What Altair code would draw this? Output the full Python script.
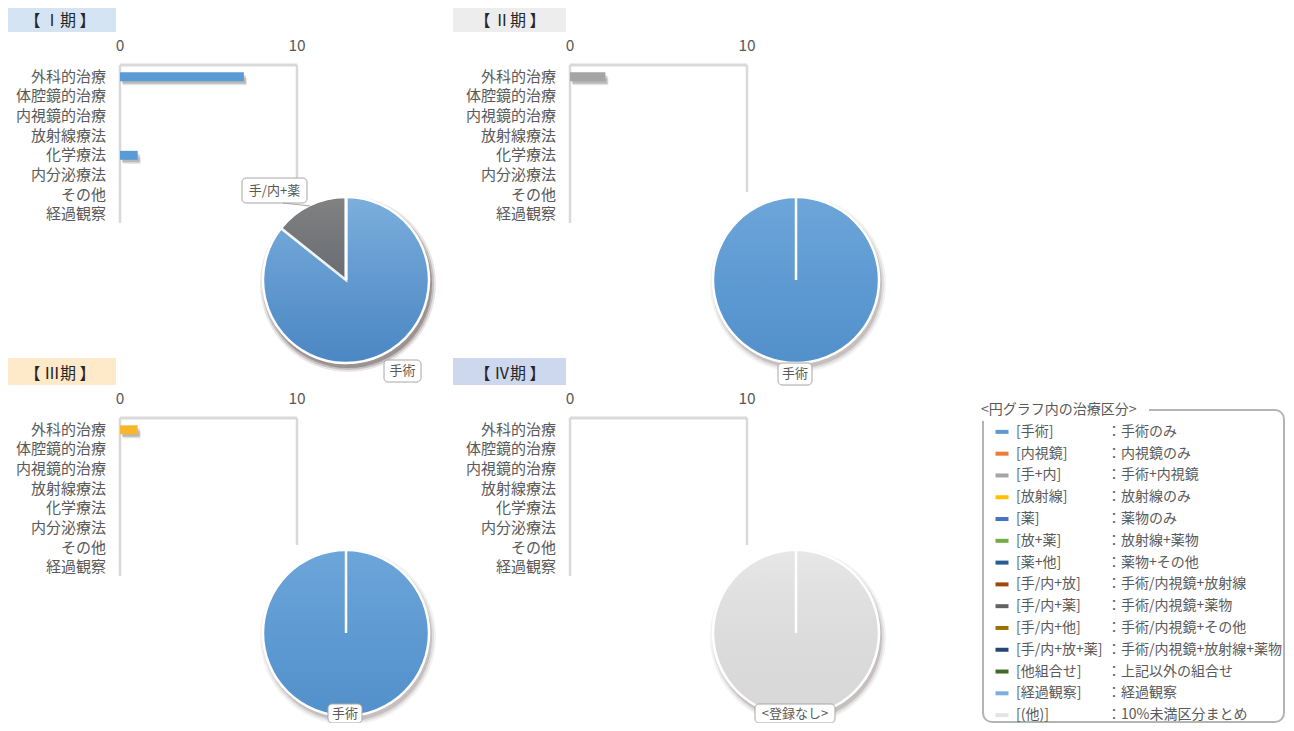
import altair as alt
import pandas as pd

FONT = "Noto Sans CJK JP"

# ---------------- data ----------------
categories = ["外科的治療", "体腔鏡的治療", "内視鏡的治療", "放射線療法",
              "化学療法", "内分泌療法", "その他", "経過観察"]
stage_titles = ["【 Ⅰ期 】", "【 Ⅱ期 】", "【 Ⅲ期 】", "【 Ⅳ期 】"]
stage1_counts = [7, 0, 0, 0, 1, 0, 0, 0]
stage2_counts = [2, 0, 0, 0, 0, 0, 0, 0]
stage3_counts = [1, 0, 0, 0, 0, 0, 0, 0]
stage4_counts = [0, 0, 0, 0, 0, 0, 0, 0]
axis_ticks = [0, 10]

pie1_keys = ["手術", "手/内+薬"]
pie1_values = [6, 1]
pie1_labels = ["手術", "手/内+薬"]
pie2_keys = ["手術"]
pie2_values = [2]
pie2_labels = ["手術"]
pie3_keys = ["手術"]
pie3_values = [1]
pie3_labels = ["手術"]
pie4_keys = ["(他)"]
pie4_values = [1]
pie4_labels = ["<登録なし>"]

legend_title = "<円グラフ内の治療区分>"
legend_keys = ["手術", "内視鏡", "手+内", "放射線", "薬", "放+薬", "薬+他",
               "手/内+放", "手/内+薬", "手/内+他", "手/内+放+薬", "他組合せ",
               "経過観察", "(他)"]
legend_desc = ["手術のみ", "内視鏡のみ", "手術+内視鏡", "放射線のみ", "薬物のみ",
               "放射線+薬物", "薬物+その他", "手術/内視鏡+放射線", "手術/内視鏡+薬物",
               "手術/内視鏡+その他", "手術/内視鏡+放射線+薬物", "上記以外の組合せ",
               "経過観察", "10%未満区分まとめ"]
legend_colors = ["#5b9bd5", "#ed7d31", "#a5a5a5", "#ffc000", "#4472c4", "#70ad47",
                 "#255e91", "#9e480e", "#636363", "#997300", "#264478", "#43682b",
                 "#7cafdd", "#e4e4e4"]

# ---------------- styling ----------------
bar_colors = ["#5b9bd5", "#a5a5a5", "#f8b62d", "#4472c4"]
header_fills = ["#d5e4f2", "#ededed", "#fee9c8", "#cdd8ee"]
TXT = "#595959"
GRID = "#d9d9d9"
W, H = 1278, 715


def S(v):
    # screen pixel -> chart pixel (page margin 8px)
    return v - 8


color_scale = alt.Scale(domain=legend_keys, range=legend_colors)

layers = []


def panel(idx, counts, pkeys, pvals, plabels, label_boxes, ox, oy, neutral=False):
    bars = pd.DataFrame({"cat": categories, "v": counts})
    ticks = pd.DataFrame({"t": axis_ticks})
    xs = alt.Scale(domain=[0, 10], range=[S(120) + ox, S(297) + ox])
    ys = alt.Scale(domain=categories, range=[S(67) + oy, S(224) + oy],
                   paddingInner=0, paddingOuter=0)

    # header
    hdr = pd.DataFrame({"title": [stage_titles[idx]]})
    layers.append(alt.Chart(hdr).mark_rect(color=header_fills[idx]).encode(
        x=alt.value(max(S(3) + ox, 0)), x2=alt.value(S(116) + ox),
        y=alt.value(max(S(5) + oy, 0)), y2=alt.value(S(32) + oy)))
    layers.append(alt.Chart(hdr).mark_text(font=FONT, fontSize=16, color="#262626",
                                           baseline="middle").encode(
        text="title:N", x=alt.value(S(60) + ox), y=alt.value(S(21) + oy)))

    # tick labels
    layers.append(alt.Chart(ticks).mark_text(font=FONT, fontSize=15.5, color=TXT,
                                             baseline="middle").encode(
        x=alt.X("t:Q", scale=xs, axis=None), y=alt.value(S(46) + oy), text="t:Q"))
    # grid
    top = pd.DataFrame({"a": [axis_ticks[0]], "b": [axis_ticks[-1]]})
    layers.append(alt.Chart(top).mark_rule(color=GRID, strokeWidth=3).encode(
        x=alt.X("a:Q", scale=xs, axis=None), x2="b:Q", y=alt.value(S(65) + oy)))
    layers.append(alt.Chart(ticks).transform_filter("datum.t == 0").mark_rule(
        color=GRID, strokeWidth=2.5).encode(
        x=alt.X("t:Q", scale=xs, axis=None), y=alt.value(S(65) + oy),
        y2=alt.value(S(223) + oy)))
    layers.append(alt.Chart(ticks).transform_filter("datum.t == 10").mark_rule(
        color=GRID, strokeWidth=2.5).encode(
        x=alt.X("t:Q", scale=xs, axis=None), y=alt.value(S(65) + oy),
        y2=alt.value(S(192) + oy)))

    # category labels
    layers.append(alt.Chart(bars).mark_text(font=FONT, fontSize=15, color=TXT,
                                            align="right", baseline="middle").encode(
        y=alt.Y("cat:N", scale=ys, axis=None, sort=categories),
        x=alt.value(S(106) + ox), text="cat:N"))

    # bar shadow + bars
    for (dx, dy, sz, op) in [(3, 5, 7, 0.12), (2, 3, 8, 0.22)]:
        layers.append(alt.Chart(bars).transform_filter("datum.v > 0").mark_bar(
            size=sz, color="#202020", opacity=op, xOffset=dx, yOffset=dy).encode(
            x=alt.X("v:Q", scale=xs, axis=None),
            y=alt.Y("cat:N", scale=ys, axis=None, sort=categories)))
    layers.append(alt.Chart(bars).transform_filter("datum.v > 0").mark_bar(
        size=9, color=bar_colors[idx]).encode(
        x=alt.X("v:Q", scale=xs, axis=None),
        y=alt.Y("cat:N", scale=ys, axis=None, sort=categories)))

    # pie
    cx, cy, r = S(346) + ox, S(280) + oy, 83
    pdf = pd.DataFrame({"k": pkeys, "v": pvals, "o": list(range(len(pkeys)))})
    for dr, op in [(5, 0.06), (3, 0.1), (1, 0.16)]:
        layers.append(alt.Chart(pdf).mark_arc(
            radius=r + dr, theta=0, theta2=6.2832, color="#3a2a25", opacity=op).encode(
            x=alt.value(cx + 2), y=alt.value(cy + 4)))
    layers.append(alt.Chart(pdf).mark_arc(radius=r, stroke="white", strokeWidth=2.5).encode(
        theta=alt.Theta("v:Q", stack=True),
        color=alt.Color("k:N", scale=color_scale, legend=None),
        order=alt.Order("o:Q"),
        x=alt.value(cx), y=alt.value(cy)))
    bottom = "rgba(0,0,0,0.05)" if neutral else "rgba(0,40,110,0.09)"
    grad = alt.Gradient(gradient="linear",
                        stops=[alt.GradientStop(color="rgba(255,255,255,0.10)", offset=0),
                               alt.GradientStop(color=bottom, offset=1)],
                        x1=0, x2=0, y1=0, y2=1)
    layers.append(alt.Chart(pdf).mark_arc(radius=r - 1.5, theta=0, theta2=6.2832,
                                          fill=grad).encode(
        x=alt.value(cx), y=alt.value(cy)))
    layers.append(alt.Chart(pdf).mark_rule(color="white", strokeWidth=2.5).encode(
        x=alt.value(cx), y=alt.value(cy - r), y2=alt.value(cy)))

    # label boxes
    for (lab, bx1, by1, bx2, by2) in label_boxes:
        ldf = pd.DataFrame({"lab": [lab]})
        layers.append(alt.Chart(ldf).mark_rect(fill="white", stroke="#a6a6a6",
                                               strokeWidth=1, cornerRadius=4).encode(
            x=alt.value(S(bx1) + ox), x2=alt.value(S(bx2) + ox),
            y=alt.value(S(by1) + oy), y2=alt.value(S(by2) + oy)))
        layers.append(alt.Chart(ldf).mark_text(font=FONT, fontSize=13, color=TXT,
                                               baseline="middle").encode(
            text="lab:N", x=alt.value(S((bx1 + bx2) / 2) + ox),
            y=alt.value(S((by1 + by2) / 2) + oy)))


panel(0, stage1_counts, pie1_keys, pie1_values, pie1_labels,
      [(pie1_labels[1], 242, 178, 307, 203), (pie1_labels[0], 384, 360, 421, 382)], 0, 0)
panel(1, stage2_counts, pie2_keys, pie2_values, pie2_labels,
      [(pie2_labels[0], 328, 363, 362, 385)], 450, 0)
panel(2, stage3_counts, pie3_keys, pie3_values, pie3_labels,
      [(pie3_labels[0], 328, 351, 362, 370)], 0, 353)
panel(3, stage4_counts, pie4_keys, pie4_values, pie4_labels,
      [(pie4_labels[0], 305, 351, 385, 370)], 450, 353, neutral=True)

# leader line for the small slice label in stage I
lead = pd.DataFrame({"lab": [pie1_labels[1]]})
layers.append(alt.Chart(lead).mark_rule(color="#a6a6a6", strokeWidth=1).encode(
    x=alt.value(S(283)), x2=alt.value(S(310)), y=alt.value(S(203)), y2=alt.value(S(206))))

# ---------------- legend ----------------
leg = pd.DataFrame({"k": legend_keys, "d": legend_desc})
leg["lab"] = "[" + leg["k"] + "]"
leg["desc"] = "：" + leg["d"]
lys = alt.Scale(domain=legend_keys, range=[S(421), S(726)], paddingInner=0, paddingOuter=0)
box = pd.DataFrame({"t": [legend_title]})
layers.append(alt.Chart(box).mark_rect(
    fill="none", stroke="#b4b4b4", strokeWidth=2, cornerRadius=9).encode(
    x=alt.value(S(983)), x2=alt.value(S(1284)), y=alt.value(S(410)), y2=alt.value(S(722))))
layers.append(alt.Chart(box).mark_rect(fill="white").encode(
    x=alt.value(S(976)), x2=alt.value(S(1149)), y=alt.value(S(400)), y2=alt.value(S(421))))
layers.append(alt.Chart(box).mark_text(
    font=FONT, fontSize=14, color=TXT, align="left", baseline="middle").encode(
    text="t:N", x=alt.value(S(981)), y=alt.value(S(410))))
layers.append(alt.Chart(leg).mark_tick(thickness=4, size=13, orient="horizontal",
                                       opacity=1).encode(
    y=alt.Y("k:N", scale=lys, axis=None, sort=legend_keys),
    x=alt.value(S(1002)),
    color=alt.Color("k:N", scale=color_scale, legend=None)))
layers.append(alt.Chart(leg).mark_text(font=FONT, fontSize=14, color=TXT, align="left",
                                       baseline="middle").encode(
    y=alt.Y("k:N", scale=lys, axis=None, sort=legend_keys),
    x=alt.value(S(1016)), text="lab:N"))
layers.append(alt.Chart(leg).mark_text(font=FONT, fontSize=14, color=TXT, align="left",
                                       baseline="middle").encode(
    y=alt.Y("k:N", scale=lys, axis=None, sort=legend_keys),
    x=alt.value(S(1107)), text="desc:N"))

chart = alt.layer(*layers).resolve_scale(
    x="independent", y="independent", theta="independent"
).properties(
    width=W, height=H, padding=0, autosize=alt.AutoSizeParams(type="none")
).configure(background="white", view=alt.ViewConfig(strokeWidth=0, stroke="transparent"))

chart.save("out.html", embed_options={"renderer": "svg", "actions": False})
